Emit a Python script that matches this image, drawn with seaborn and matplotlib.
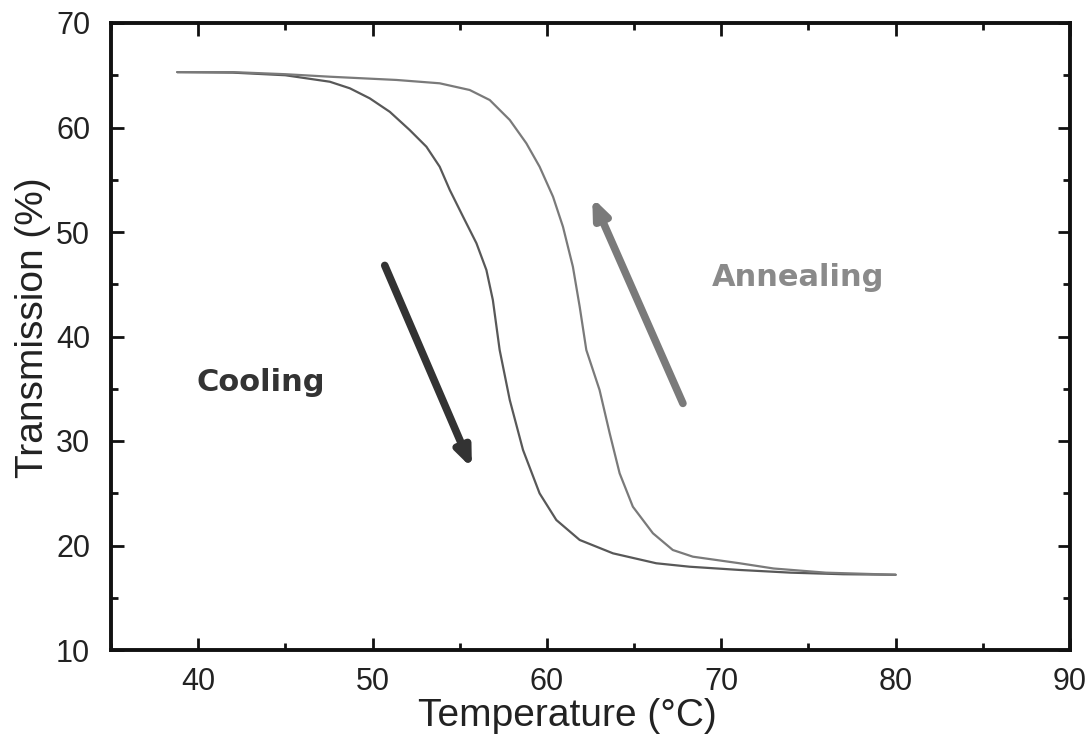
import matplotlib
matplotlib.use("Agg")
import matplotlib.pyplot as plt
from matplotlib.ticker import MultipleLocator
import seaborn as sns
import pandas as pd

# Transmission vs temperature, cooling and annealing runs
cooling_T = [38.8, 42.0, 45.0, 47.55, 48.7, 49.84, 50.99, 52.13, 53.09, 53.85,
             54.43, 55.19, 55.96, 56.53, 56.9, 57.29, 57.87, 58.63, 59.58,
             60.54, 61.88, 63.79, 66.27, 68.18, 71.05, 74.0, 77.0, 80.0]
cooling_V = [65.3, 65.25, 65.0, 64.38, 63.75, 62.79, 61.5, 59.76, 58.16, 56.25,
             54.02, 51.47, 48.92, 46.36, 43.49, 38.71, 33.92, 29.14, 24.99,
             22.44, 20.53, 19.25, 18.3, 17.97, 17.66, 17.4, 17.25, 17.2]

annealing_T = [38.8, 42.0, 45.0, 47.55, 51.37, 53.85, 55.57, 56.72, 57.87,
               58.82, 59.58, 60.35, 60.92, 61.49, 61.88, 62.26, 63.02, 63.6,
               64.17, 64.93, 66.08, 67.22, 68.37, 71.05, 73.0, 76.0, 80.0]
annealing_V = [65.3, 65.3, 65.1, 64.86, 64.55, 64.23, 63.59, 62.63, 60.72,
               58.49, 56.25, 53.38, 50.51, 46.68, 42.85, 38.71, 34.88, 30.74,
               26.91, 23.71, 21.17, 19.57, 18.93, 18.3, 17.8, 17.4, 17.2]

# Direction arrows: (start T, start V) -> (end T, end V)
cooling_arrow = [(50.7, 46.8), (55.7, 27.4)]
annealing_arrow = [(67.8, 33.6), (62.6, 53.3)]

x_ticks = [40, 50, 60, 70, 80, 90]
y_ticks = [10, 20, 30, 40, 50, 60, 70]

df = pd.concat([
    pd.DataFrame({"T": cooling_T, "V": cooling_V, "run": "Cooling"}),
    pd.DataFrame({"T": annealing_T, "V": annealing_V, "run": "Annealing"}),
], ignore_index=True)

sns.set_style("ticks")
plt.rcParams["font.family"] = ["Liberation Sans", "DejaVu Sans"]

fig = plt.figure(figsize=(10.89, 7.45), dpi=100)
ax = fig.add_axes([111 / 1089, 1 - 650 / 745, (1070 - 111) / 1089, (650 - 23) / 745])

sns.lineplot(data=df, x="T", y="V", hue="run", sort=False, estimator=None,
             palette={"Cooling": "#585858", "Annealing": "#7a7a7a"},
             linewidth=1.6, legend=False, ax=ax)

ax.set_xlim(35, 90)
ax.set_ylim(10, 70)
ax.set_xticks(x_ticks)
ax.set_yticks(y_ticks)
ax.xaxis.set_minor_locator(MultipleLocator(5))
ax.yaxis.set_minor_locator(MultipleLocator(5))
ax.tick_params(which="both", direction="in", top=True, right=True,
               color="#111111", width=2)
ax.tick_params(which="major", length=9, labelsize=22, labelcolor="#222222")
ax.tick_params(axis="x", which="major", pad=12)
ax.tick_params(axis="y", which="major", pad=15)
ax.tick_params(which="minor", length=5)
for s in ax.spines.values():
    s.set_linewidth(2.8)
    s.set_color("#111111")

ax.set_xlabel("Temperature (°C)", fontsize=28, color="#222222")
ax.set_ylabel("Transmission (%)", fontsize=28, color="#222222")
ax.xaxis.set_label_coords(0.4755, -0.077)
ax.yaxis.set_label_coords(-0.063, 0.5136)

ax.annotate("", xy=cooling_arrow[1], xytext=cooling_arrow[0],
            arrowprops=dict(arrowstyle="-|>,head_length=1.1,head_width=0.45",
                            color="#333333", lw=5.5, shrinkA=0, shrinkB=0))
ax.annotate("", xy=annealing_arrow[1], xytext=annealing_arrow[0],
            arrowprops=dict(arrowstyle="-|>,head_length=1.1,head_width=0.45",
                            color="#7a7a7a", lw=5.5, shrinkA=0, shrinkB=0))

ax.text(43.6, 35.6, "Cooling", fontsize=22, fontweight="bold", color="#333333",
        family=["DejaVu Sans"], ha="center", va="center")
ax.text(74.4, 45.6, "Annealing", fontsize=22, fontweight="bold", color="#8a8a8a",
        family=["DejaVu Sans"], ha="center", va="center")

fig.savefig("out.png", dpi=100)
